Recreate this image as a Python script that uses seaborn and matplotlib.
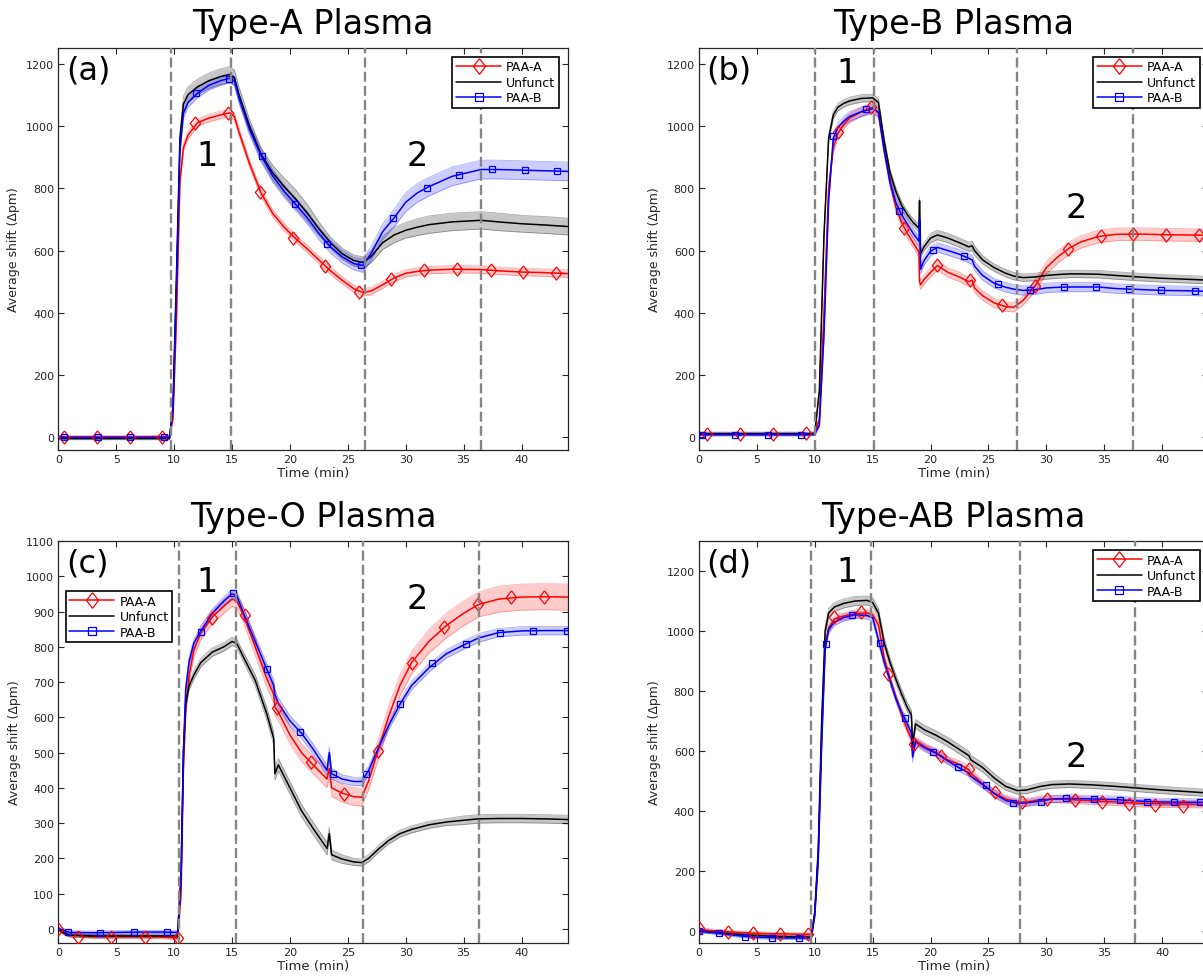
import numpy as np
import matplotlib
matplotlib.use('Agg')
import matplotlib.pyplot as plt
from matplotlib.lines import Line2D
import seaborn as sns

sns.set_style('ticks')
plt.rcParams['font.family'] = ['DejaVu Sans']

series_names = ['PAA-A', 'Unfunct', 'PAA-B']
titles = ['Type-A Plasma', 'Type-B Plasma', 'Type-O Plasma', 'Type-AB Plasma']
tags = ['(a)', '(b)', '(c)', '(d)']

# ---------------- (a) Type-A ----------------
a_t = [0, 1, 3, 5, 7, 9, 9.6, 9.9, 10.2, 10.5, 10.8, 11.2, 12, 13, 14, 14.8, 15.2, 15.6,
       16.5, 17.5, 18.5, 19.5, 20.5, 21.5, 22.5, 23.5, 24.5, 25.5, 26.3, 27, 28, 29, 30,
       31, 32, 34, 36.5, 38, 40, 42, 44]
a_red = [2, 2, 2, 2, 2, 3, 3, 60, 380, 820, 930, 970, 1010, 1025, 1035, 1042, 1030, 980,
         880, 785, 720, 675, 638, 605, 570, 535, 505, 478, 465, 470, 490, 512, 527,
         533, 537, 540, 539, 535, 531, 529, 526]
a_black = [-3, -3, -3, -3, -3, -3, -3, 100, 520, 960, 1070, 1100, 1125, 1145, 1158, 1165, 1155, 1100,
           1000, 910, 850, 805, 765, 720, 670, 625, 590, 568, 562, 580, 625, 650, 665,
           675, 683, 692, 697, 692, 686, 682, 677]
a_blue = [0, 0, 0, 0, 0, 0, 0, 90, 480, 920, 1040, 1075, 1105, 1130, 1145, 1153, 1145, 1090,
          990, 905, 840, 790, 748, 705, 655, 612, 580, 558, 552, 590, 660, 705, 755,
          785, 805, 838, 860, 860, 858, 856, 854]
a_red_sd = [4, 4, 4, 4, 4, 4, 4, 8, 10, 12, 12, 12, 12, 12, 12, 12, 12, 12,
            12, 12, 12, 12, 12, 12, 12, 12, 12, 12, 12, 12, 12, 12, 12,
            12, 12, 12, 12, 12, 12, 12, 12]
a_black_sd = [4, 4, 4, 4, 4, 4, 4, 10, 15, 20, 25, 25, 25, 25, 25, 25, 25, 25,
              22, 20, 24, 28, 30, 28, 22, 18, 18, 18, 18, 20, 22, 25, 25,
              27, 28, 28, 28, 28, 27, 27, 27]
a_blue_sd = [4, 4, 4, 4, 4, 4, 4, 8, 10, 12, 15, 15, 15, 15, 15, 15, 15, 15,
             18, 20, 20, 20, 20, 20, 20, 20, 20, 20, 22, 22, 25, 28, 30,
             30, 30, 30, 30, 30, 30, 30, 30]
a_red_mt = [0.5, 3.37, 6.18, 8.99, 11.8, 14.65, 17.45, 20.26, 23.07, 25.95, 28.7, 31.6, 34.4, 37.4, 40.1, 43.0]
a_red_my = [2, 2, 2, 3, 1008, 1040, 787, 640, 550, 467, 509, 536, 541, 536, 531, 527]
a_blue_mt = [0.5, 3.4, 6.2, 9.16, 11.9, 14.7, 17.6, 20.4, 23.2, 26.1, 28.9, 31.8, 34.6, 37.45, 40.3, 43.1]
a_blue_my = [1, 0, 0, 1, 1104, 1152, 902, 749, 621, 552, 703, 802, 843, 861, 858, 854]
a_vlines = [9.7, 14.9, 26.5, 36.5]

# ---------------- (b) Type-B ----------------
b_t = [0, 2, 4, 6, 8, 9.5, 10, 10.4, 10.8, 11.2, 11.6, 12, 12.5, 13, 14, 15, 15.5, 16, 16.5, 17,
       17.5, 18, 18.5, 19.0, 19.05, 19.15, 19.4, 20, 20.6, 21.5, 22.5, 23.3, 23.6, 23.8, 24.5,
       25.5, 26.5, 27.2, 28, 29, 30, 31, 32, 33, 34.5, 36, 38, 40, 42, 44]
b_red = [12, 12, 12, 12, 12, 12, 13, 60, 400, 800, 930, 975, 1005, 1025, 1045, 1060, 1040, 930, 820, 740,
         690, 655, 625, 595, 500, 490, 505, 530, 552, 530, 515, 500, 505, 480, 455,
         432, 420, 418, 440, 485, 545, 580, 608, 628, 645, 652, 653, 651, 650, 649]
b_black = [12, 12, 12, 12, 12, 12, 13, 150, 650, 960, 1035, 1060, 1072, 1080, 1088, 1090, 1075, 950, 850, 790,
           745, 715, 690, 672, 760, 590, 610, 640, 650, 640, 625, 612, 615, 600, 570,
           545, 527, 518, 513, 515, 520, 523, 525, 525, 524, 520, 515, 511, 508, 505]
b_blue = [10, 10, 10, 10, 10, 10, 11, 40, 330, 760, 960, 995, 1015, 1030, 1045, 1055, 1045, 920, 820, 755,
          715, 685, 655, 630, 700, 540, 565, 598, 610, 600, 588, 575, 570, 550, 520,
          495, 482, 476, 472, 474, 480, 482, 483, 483, 483, 478, 475, 472, 471, 469]
b_red_sd = [5, 5, 5, 5, 5, 5, 5, 8, 10, 12, 15, 15, 15, 15, 15, 15, 15, 15, 15, 15,
            15, 15, 15, 15, 15, 15, 15, 15, 15, 15, 15, 15, 15, 15, 15,
            15, 15, 15, 15, 18, 20, 20, 20, 20, 20, 20, 20, 20, 20, 20]
b_black_sd = [5, 5, 5, 5, 5, 5, 5, 8, 10, 12, 12, 12, 12, 12, 12, 12, 12, 12, 12, 12,
              12, 12, 12, 12, 12, 12, 12, 15, 15, 15, 15, 15, 15, 15, 13,
              12, 12, 12, 12, 12, 12, 12, 12, 12, 12, 12, 12, 12, 12, 12]
b_blue_sd = [5, 5, 5, 5, 5, 5, 5, 8, 10, 12, 15, 15, 15, 15, 15, 15, 15, 15, 15, 15,
             15, 15, 15, 15, 15, 15, 15, 15, 15, 15, 15, 15, 15, 15, 15,
             15, 15, 15, 15, 15, 15, 15, 15, 15, 15, 15, 15, 15, 15, 15]
b_red_mt = [0.73, 3.55, 6.38, 9.24, 12.0, 14.9, 17.7, 20.6, 23.4, 26.2, 29.0, 31.9, 34.7, 37.5, 40.3, 43.2]
b_red_my = [12, 12, 12, 13, 979, 1062, 671, 552, 504, 424, 486, 605, 646, 653, 651, 650]
b_blue_mt = [0.25, 3.1, 5.95, 8.8, 11.6, 14.4, 17.3, 20.2, 22.9, 25.8, 28.6, 31.5, 34.3, 37.1, 39.9, 42.8]
b_blue_my = [7, 9, 9, 9, 966, 1053, 728, 603, 581, 491, 472, 483, 483, 475, 472, 470]
b_vlines = [10.0, 15.1, 27.5, 37.5]

# ---------------- (c) Type-O ----------------
c_t = [0, 0.5, 1, 3, 5, 7, 9, 10.3, 10.6, 10.8, 11, 11.3, 11.7, 12.3, 13.3, 14.3, 15, 15.4, 16, 17,
       18, 18.6, 18.7, 19, 20, 21, 22, 23.2, 23.4, 23.6, 24.5, 25.5, 26.2, 26.8, 27.6,
       28.5, 29.5, 30.5, 32, 33.5, 35, 36.3, 38, 40, 42, 44]
c_red = [0, -12, -18, -22, -22, -22, -23, -26, 100, 450, 620, 720, 790, 840, 885, 915, 935, 930, 890, 800,
         710, 665, 630, 615, 550, 500, 465, 425, 455, 400, 385, 375, 373, 420, 505,
         600, 690, 755, 815, 860, 895, 920, 935, 941, 942, 941]
c_black = [0, -12, -18, -20, -20, -20, -20, -20, 150, 500, 640, 690, 720, 755, 785, 800, 815, 810, 770, 705,
           610, 540, 440, 465, 400, 335, 285, 228, 270, 210, 198, 190, 188, 200, 225,
           250, 270, 282, 295, 303, 308, 312, 313, 313, 312, 310]
c_blue = [0, -5, -10, -11, -10, -9, -9, -10, 150, 500, 680, 760, 810, 845, 895, 930, 950, 945, 895, 815,
          737, 690, 665, 640, 590, 555, 510, 450, 500, 440, 425, 418, 418, 450, 510,
          575, 637, 690, 740, 780, 805, 825, 840, 845, 846, 846]
c_red_sd = [5, 5, 5, 5, 5, 5, 5, 5, 10, 15, 18, 18, 20, 20, 20, 20, 20, 20, 22, 25,
            25, 25, 25, 25, 25, 25, 25, 25, 25, 25, 25, 25, 25, 25, 28,
            30, 30, 32, 33, 35, 35, 35, 37, 37, 37, 37]
c_black_sd = [5, 5, 5, 5, 5, 5, 5, 5, 8, 10, 12, 12, 12, 12, 12, 12, 12, 12, 14, 16,
              18, 18, 18, 18, 18, 18, 18, 18, 18, 14, 12, 10, 10, 10, 10,
              10, 10, 10, 10, 10, 12, 12, 12, 12, 12, 12]
c_blue_sd = [5, 5, 5, 5, 5, 5, 5, 5, 8, 10, 12, 12, 12, 12, 12, 12, 12, 12, 14, 15,
             15, 15, 15, 15, 15, 15, 15, 15, 15, 15, 12, 12, 12, 12, 12,
             12, 12, 12, 12, 12, 12, 12, 12, 12, 12, 12]
c_red_mt = [0, 1.7, 4.56, 7.47, 10.3, 13.3, 16.1, 18.9, 21.8, 24.7, 27.6, 30.5, 33.3, 36.2, 39.1, 41.9]
c_red_my = [0, -22, -22, -22, -26, 883, 891, 626, 474, 382, 505, 755, 857, 920, 941, 941]
c_blue_mt = [0.8, 3.6, 6.5, 9.4, 12.3, 15.1, 18.0, 20.9, 23.7, 26.6, 29.5, 32.3, 35.2, 38.1, 41.0, 43.9]
c_blue_my = [-8, -11, -9, -9, 842, 952, 737, 559, 439, 439, 637, 753, 807, 840, 846, 846]
c_vlines = [10.45, 15.3, 26.3, 36.3]

# ---------------- (d) Type-AB ----------------
d_t = [0, 1.5, 3, 4.5, 6, 7.5, 9, 9.7, 10, 10.3, 10.6, 10.9, 11.2, 11.7, 12.5, 13.5, 14.5, 15, 15.5, 16,
       16.5, 17, 17.5, 18, 18.35, 18.45, 18.7, 19.5, 20.5, 21.5, 22.5, 23.3, 23.5, 24.5, 25.5,
       26.5, 27.5, 28.3, 29.5, 30.5, 32, 34, 36, 38, 40, 42, 44]
d_red = [5, 0, -4, -7, -9, -10, -11, -11, 60, 250, 650, 950, 1010, 1040, 1050, 1058, 1060, 1055, 1020, 910,
         840, 780, 720, 670, 640, 600, 635, 615, 595, 570, 555, 538, 525, 490, 460,
         440, 430, 430, 438, 440, 438, 434, 430, 426, 424, 423, 422]
d_black = [0, -5, -10, -14, -17, -19, -20, -20, 60, 270, 700, 1000, 1060, 1080, 1092, 1100, 1102, 1095, 1060, 960,
           895, 840, 790, 745, 720, 620, 690, 670, 652, 630, 605, 585, 570, 545, 510,
           482, 468, 470, 482, 488, 490, 487, 482, 476, 470, 465, 460]
d_blue = [0, -6, -14, -20, -22, -23, -23, -23, 50, 230, 620, 940, 1005, 1030, 1045, 1054, 1052, 1045, 970, 895,
          835, 775, 730, 690, 660, 580, 630, 610, 592, 567, 543, 527, 515, 488, 458,
          435, 425, 427, 433, 440, 442, 440, 438, 433, 430, 429, 429]
d_red_sd = [5, 5, 5, 5, 5, 5, 5, 5, 8, 10, 12, 12, 12, 12, 12, 12, 12, 12, 12, 12,
            12, 12, 12, 12, 12, 15, 12, 12, 12, 12, 12, 12, 12, 12, 12,
            12, 12, 12, 12, 12, 12, 12, 12, 12, 12, 12, 12]
d_black_sd = [5, 5, 5, 5, 5, 5, 5, 5, 8, 10, 15, 15, 15, 15, 15, 15, 15, 15, 15, 15,
              15, 15, 15, 15, 15, 15, 15, 15, 15, 15, 15, 15, 15, 15, 15,
              13, 12, 12, 12, 12, 12, 12, 12, 12, 12, 12, 12]
d_blue_sd = [5, 5, 5, 5, 5, 5, 5, 5, 8, 10, 12, 12, 12, 12, 12, 12, 12, 12, 12, 12,
             12, 12, 12, 12, 12, 18, 12, 12, 12, 12, 12, 12, 12, 12, 12,
             12, 12, 12, 12, 12, 12, 12, 12, 12, 12, 12, 12]
d_red_mt = [0, 2.5, 4.7, 7.0, 9.4, 11.7, 14.0, 16.3, 18.6, 20.9, 23.3, 25.6, 27.9, 30.1, 32.5, 34.8, 37.1, 39.4, 41.8]
d_red_my = [10, -3, -7, -11, -11, 1045, 1065, 856, 623, 584, 540, 462, 429, 440, 435, 431, 424, 420, 418]
d_blue_mt = [0, 1.7, 4.0, 6.3, 8.6, 11.0, 13.2, 15.6, 17.8, 20.2, 22.4, 24.75, 27.1, 29.5, 31.7, 34.1, 36.4, 38.7, 41.0, 43.3]
d_blue_my = [0, -7, -20, -23, -23, 955, 1054, 959, 711, 598, 546, 485, 427, 431, 442, 440, 438, 431, 429, 429]
d_vlines = [9.7, 14.9, 27.7, 37.7]

RED, BLACK, BLUE = '#ff0000', '#000000', '#0000ff'
DASH_GRAY = '#858585'
AX_GRAY = '#262626'
# MATLAB-like diamond (a bit taller than wide)
DIAMOND = [(0, 1), (0.78, 0), (0, -1), (-0.78, 0), (0, 1)]
D_SIZE, S_SIZE = 7.0, 4.8


def draw_band(ax, t, y, sd, color, alpha):
    t = np.asarray(t, float)
    y = np.asarray(y, float)
    sd = np.asarray(sd, float)
    ax.fill_between(t, y - sd, y + sd, color=color, alpha=alpha, linewidth=0, zorder=1)
    ax.plot(t, y - sd, color=color, alpha=alpha + 0.1, lw=0.6, zorder=1)
    ax.plot(t, y + sd, color=color, alpha=alpha + 0.1, lw=0.6, zorder=1)


def draw_panel(ax, t, curves, sds, red_m, blue_m, vlines, ylim, yticks, title, tag,
               num_pos, leg_kw):
    red, black, blue = curves
    red_sd, black_sd, blue_sd = sds
    draw_band(ax, t, red, red_sd, RED, 0.2)
    sns.lineplot(x=t, y=red, color=RED, lw=1.1, errorbar=None, sort=False, ax=ax, zorder=3)
    draw_band(ax, t, black, black_sd, BLACK, 0.22)
    sns.lineplot(x=t, y=black, color=BLACK, lw=1.1, errorbar=None, sort=False, ax=ax, zorder=3)
    draw_band(ax, t, blue, blue_sd, BLUE, 0.2)
    sns.lineplot(x=t, y=blue, color=BLUE, lw=1.1, errorbar=None, sort=False, ax=ax, zorder=3)

    sns.lineplot(x=red_m[0], y=red_m[1], color=RED, marker=DIAMOND, linestyle='',
                 markersize=D_SIZE * 1.35, markerfacecolor='none', markeredgecolor=RED,
                 markeredgewidth=0.9, errorbar=None, ax=ax, zorder=4)
    sns.lineplot(x=blue_m[0], y=blue_m[1], color=BLUE, marker='s', linestyle='',
                 markersize=S_SIZE, markerfacecolor='none', markeredgecolor=BLUE,
                 markeredgewidth=0.9, errorbar=None, ax=ax, zorder=4)

    for v in vlines:
        ax.axvline(v, color=DASH_GRAY, lw=1.7, ls=(0, (4.2, 1.8)), zorder=5)

    ax.set_xlim(0, 44)
    ax.set_ylim(*ylim)
    ax.set_xticks(range(0, 45, 5))
    ax.set_yticks(yticks)
    ax.tick_params(direction='in', top=True, right=True, length=4, width=0.8,
                   labelsize=8, colors=AX_GRAY, pad=3)
    for sp in ax.spines.values():
        sp.set_visible(True)
        sp.set_color(AX_GRAY)
        sp.set_linewidth(0.9)
    ax.set_xlabel('Time (min)', fontsize=9.5, color=AX_GRAY, labelpad=1)
    ax.set_ylabel('Average shift (\u0394pm)', fontsize=9, color=AX_GRAY, labelpad=4)
    ax.set_title(title, fontsize=24, pad=11, color='black')
    ax.text(0.015, 0.985, tag, transform=ax.transAxes, fontsize=23, ha='left', va='top',
            color='black')
    ax.text(num_pos[0][0], num_pos[0][1], '1', fontsize=24, ha='center', va='center',
            color='black')
    ax.text(num_pos[1][0], num_pos[1][1], '2', fontsize=24, ha='center', va='center',
            color='black')

    handles = [Line2D([], [], color=RED, lw=1.1, marker=DIAMOND, markersize=D_SIZE * 1.6,
                      markerfacecolor='none', markeredgewidth=0.9),
               Line2D([], [], color=BLACK, lw=1.1),
               Line2D([], [], color=BLUE, lw=1.1, marker='s', markersize=S_SIZE * 1.15,
                      markerfacecolor='none', markeredgewidth=0.9)]
    leg = ax.legend(handles, series_names, fontsize=9, frameon=True, fancybox=False,
                    edgecolor='black', framealpha=1, handlelength=3.6, labelspacing=0.2,
                    borderpad=0.3, handletextpad=0.4, **leg_kw)
    leg.get_frame().set_linewidth(1.2)
    for txt in leg.get_texts():
        txt.set_color('black')


fig = plt.figure(figsize=(12.03, 9.78), dpi=100)
ax_a = fig.add_axes([0.0485, 0.5389, 0.4235, 0.4110])
ax_b = fig.add_axes([0.5810, 0.5389, 0.4235, 0.4110])
ax_c = fig.add_axes([0.0485, 0.0348, 0.4235, 0.4110])
ax_d = fig.add_axes([0.5810, 0.0348, 0.4235, 0.4110])

ur = dict(loc='upper right', borderaxespad=0.7)

draw_panel(ax_a, a_t, (a_red, a_black, a_blue), (a_red_sd, a_black_sd, a_blue_sd),
           (a_red_mt, a_red_my), (a_blue_mt, a_blue_my), a_vlines,
           (-40, 1250), range(0, 1201, 200), titles[0], tags[0],
           [(12.8, 905), (31.0, 905)], ur)
draw_panel(ax_b, b_t, (b_red, b_black, b_blue), (b_red_sd, b_black_sd, b_blue_sd),
           (b_red_mt, b_red_my), (b_blue_mt, b_blue_my), b_vlines,
           (-40, 1250), range(0, 1201, 200), titles[1], tags[1],
           [(12.8, 1171), (32.6, 739)], ur)
draw_panel(ax_c, c_t, (c_red, c_black, c_blue), (c_red_sd, c_black_sd, c_blue_sd),
           (c_red_mt, c_red_my), (c_blue_mt, c_blue_my), c_vlines,
           (-40, 1100), range(0, 1101, 100), titles[2], tags[2],
           [(12.8, 984), (31.0, 936)],
           dict(loc='upper left', bbox_to_anchor=(0.0145, 0.876), borderaxespad=0))
draw_panel(ax_d, d_t, (d_red, d_black, d_blue), (d_red_sd, d_black_sd, d_blue_sd),
           (d_red_mt, d_red_my), (d_blue_mt, d_blue_my), d_vlines,
           (-40, 1300), range(0, 1201, 200), titles[3], tags[3],
           [(12.8, 1197), (32.6, 580)], ur)

fig.savefig('out.png', dpi=100)
